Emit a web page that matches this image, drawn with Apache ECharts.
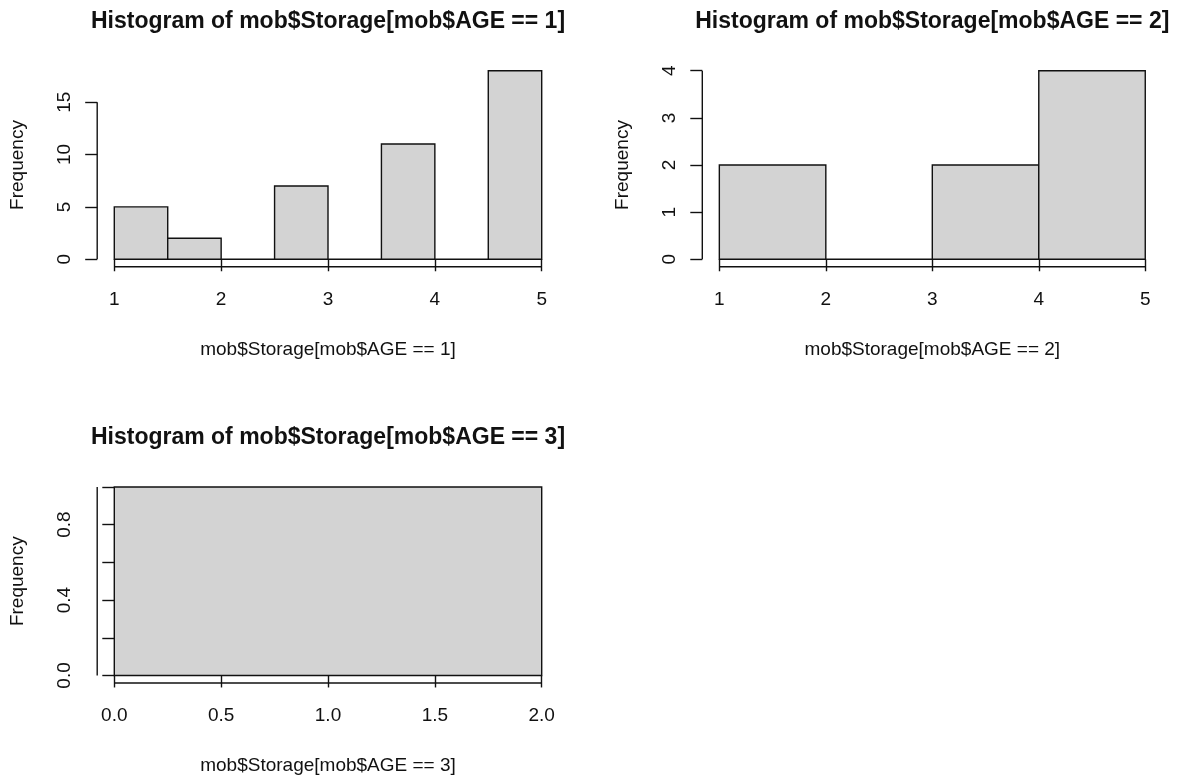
<!DOCTYPE html>
<html>
<head>
<meta charset="utf-8">
<title>Histograms of mob$Storage by AGE</title>
<script src="https://cdn.jsdelivr.net/npm/echarts@6/dist/echarts.min.js"></script>
<style>
  html, body { margin: 0; padding: 0; background: #ffffff; }
  #chart { width: 1188px; height: 780px; }
</style>
</head>
<body>
<div id="chart"></div>
<script>
// ---- data: bin edges and counts for each AGE group ----
const breaks1 = [1, 1.5, 2, 2.5, 3, 3.5, 4, 4.5, 5];
const counts1 = [5, 2, 0, 7, 0, 11, 0, 18];
const breaks2 = [1, 2, 3, 4, 5];
const counts2 = [2, 0, 2, 4];
const breaks3 = [0, 2];
const counts3 = [1];

// ---- tick positions / labels ----
const xTicks1 = [1, 2, 3, 4, 5];
const yTicks1 = [0, 5, 10, 15];
const xTicks2 = [1, 2, 3, 4, 5];
const yTicks2 = [0, 1, 2, 3, 4];
const xTicks3 = [0, 0.5, 1, 1.5, 2];
const yTicks3 = [0, 0.2, 0.4, 0.6, 0.8, 1.0];
const yLabels3 = [0, 0.4, 0.8];

const titles = [
  'Histogram of mob$Storage[mob$AGE == 1]',
  'Histogram of mob$Storage[mob$AGE == 2]',
  'Histogram of mob$Storage[mob$AGE == 3]'
];
const xNames = [
  'mob$Storage[mob$AGE == 1]',
  'mob$Storage[mob$AGE == 2]',
  'mob$Storage[mob$AGE == 3]'
];

// ---- layout of the three plot regions ----
const panels = [
  { left: 97.2, top: 63.2, width: 461.6, height: 203.6 },
  { left: 702.3, top: 63.2, width: 460.0, height: 203.6 },
  { left: 97.2, top: 479.4, width: 461.6, height: 203.6 }
];

const FONT = '"Liberation Sans", Arial, sans-serif';
const TXT = '#111';
const INK = '#111';
const LW = 1.4;

// R-style 4% range extension
function extend(lo, hi) {
  const d = (hi - lo) * 0.04;
  return [lo - d, hi + d];
}

function binData(breaks, counts) {
  return counts.map((c, i) => [breaks[i], breaks[i + 1], c]);
}

const specs = [
  { breaks: breaks1, counts: counts1, xTicks: xTicks1, yTicks: yTicks1, yLabels: yTicks1, dec: 0 },
  { breaks: breaks2, counts: counts2, xTicks: xTicks2, yTicks: yTicks2, yLabels: yTicks2, dec: 0 },
  { breaks: breaks3, counts: counts3, xTicks: xTicks3, yTicks: yTicks3, yLabels: yLabels3, dec: 1 }
];

const grid = [], xAxis = [], yAxis = [], series = [], graphic = [];

specs.forEach((s, i) => {
  const p = panels[i];
  const xr = extend(s.breaks[0], s.breaks[s.breaks.length - 1]);
  const yr = extend(0, Math.max(...s.counts));
  grid.push({ left: p.left, top: p.top, width: p.width, height: p.height, containLabel: false });

  xAxis.push({
    type: 'value', gridIndex: i, min: xr[0], max: xr[1],
    axisLine: { show: false }, splitLine: { show: false },
    axisTick: { show: true, customValues: s.xTicks, length: 12, inside: false,
                lineStyle: { color: INK, width: LW } },
    axisLabel: { customValues: s.xTicks, margin: 23, fontSize: 19, fontFamily: FONT, color: TXT,
                 formatter: v => Number(v).toFixed(s.dec) },
    name: xNames[i], nameLocation: 'middle', nameGap: 73,
    nameTextStyle: { fontSize: 19, fontFamily: FONT, color: TXT }
  });

  yAxis.push({
    type: 'value', gridIndex: i, min: yr[0], max: yr[1],
    axisLine: { show: false }, splitLine: { show: false },
    axisTick: { show: true, customValues: s.yTicks, length: 12, inside: false,
                lineStyle: { color: INK, width: LW } },
    axisLabel: { customValues: s.yLabels, margin: 23, rotate: 90, fontSize: 19, fontFamily: FONT, color: TXT,
                 formatter: v => Number(v).toFixed(s.dec) },
    name: 'Frequency', nameLocation: 'middle', nameGap: 70,
    nameTextStyle: { fontSize: 19, fontFamily: FONT, color: TXT }
  });

  // histogram bins
  series.push({
    type: 'custom', xAxisIndex: i, yAxisIndex: i, silent: true,
    data: binData(s.breaks, s.counts),
    encode: { x: [0, 1], y: 2 },
    renderItem: (params, api) => {
      const a = api.coord([api.value(0), api.value(2)]);
      const b = api.coord([api.value(1), 0]);
      return {
        type: 'rect',
        shape: { x: a[0], y: a[1], width: b[0] - a[0], height: b[1] - a[1] },
        style: { fill: '#d3d3d3', stroke: INK, lineWidth: LW }
      };
    }
  });

  // axis lines spanning first to last tick, drawn at the plot-region edge
  const yFirst = s.yTicks[0], yLast = s.yTicks[s.yTicks.length - 1];
  const xFirst = s.xTicks[0], xLast = s.xTicks[s.xTicks.length - 1];
  series.push({
    type: 'line', xAxisIndex: i, yAxisIndex: i, silent: true, clip: false,
    symbol: 'none', lineStyle: { color: INK, width: LW },
    data: [[xr[0], yFirst], [xr[0], yLast]]
  });
  series.push({
    type: 'line', xAxisIndex: i, yAxisIndex: i, silent: true, clip: false,
    symbol: 'none', lineStyle: { color: INK, width: LW },
    data: [[xFirst, yr[0]], [xLast, yr[0]]]
  });

  graphic.push({
    type: 'text', silent: true,
    x: p.left + p.width / 2, y: p.top - 42,
    style: { text: titles[i], fontSize: 23, fontWeight: 'bold', fontFamily: FONT,
             fill: TXT, align: 'center', verticalAlign: 'middle' }
  });
});

const chart = echarts.init(document.getElementById('chart'), null, { renderer: 'canvas' });
chart.setOption({
  animation: false,
  backgroundColor: '#ffffff',
  grid, xAxis, yAxis, series, graphic
});
</script>
</body>
</html>
